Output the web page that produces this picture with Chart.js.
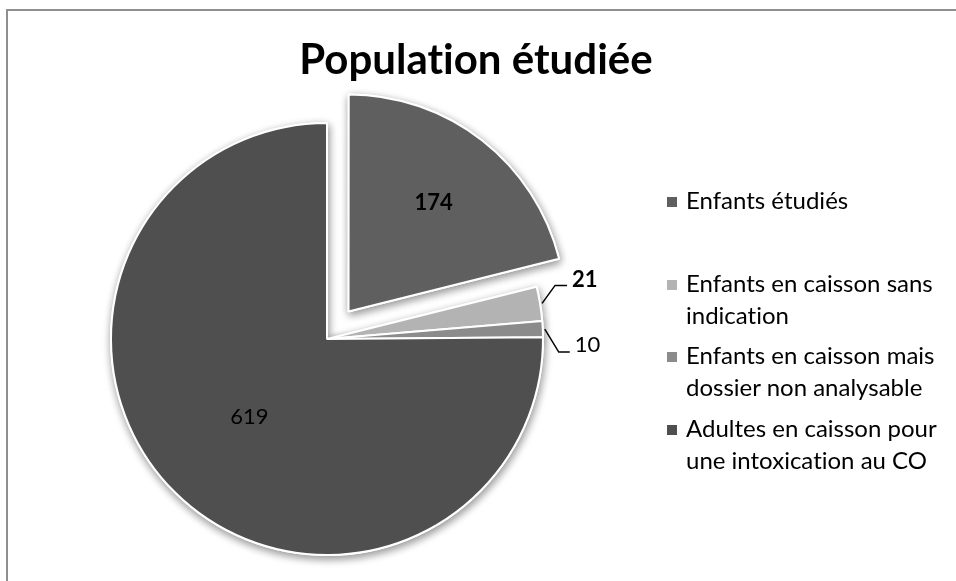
<!DOCTYPE html>
<html lang="fr">
<head>
<meta charset="utf-8">
<title>Population étudiée</title>
<script src="https://cdn.jsdelivr.net/npm/chart.js@4.4.1/dist/chart.umd.min.js"></script>
<style>
  html, body { margin: 0; padding: 0; background: #fff; }
  body { width: 956px; height: 581px; position: relative; overflow: hidden; font-family: Lato, "Open Sans", sans-serif; font-variant-ligatures: none; font-feature-settings: "liga" 0, "clig" 0, "dlig" 0; }
  #frame { position: absolute; left: 6px; top: 9px; width: 1100px; height: 800px; border: 2px solid #8f8f8f; box-sizing: border-box; }
  #chart { position: absolute; left: 0; top: 0; }
  #title { position: absolute; left: 0; width: 952px; top: 33px; text-align: center; font-weight: 700; font-size: 42px; line-height: 50px; color: #000; white-space: nowrap; }
  .legend-item { position: absolute; left: 667px; font-size: 24px; line-height: 32px; color: #000; white-space: nowrap; }
  .legend-item .swatch { position: absolute; left: 0; top: 13px; width: 10px; height: 10px; }
  .legend-item .text { margin-left: 19px; }
</style>
</head>
<body>
<div id="frame"></div>
<canvas id="chart" width="956" height="581"></canvas>
<div id="title">Population étudiée</div>
<div id="legend"></div>
<script>
// Categories (each label split into its legend lines) and counts
const categories = [
  ['Enfants étudiés'],
  ['Enfants en caisson sans', 'indication'],
  ['Enfants en caisson mais', 'dossier non analysable'],
  ['Adultes en caisson pour', 'une intoxication au CO']
];
const counts = [174, 21, 10, 619];
const sliceColors = ['#5f5f5f', '#b3b3b3', '#8b8b8b', '#4f4f4f'];
const sliceOffsets = [140, 0, 0, 0];

// Vertical placement of each legend entry
const legendTops = [184, 267, 339, 412];

// How each value label is placed: inside at a fraction of the radius,
// or outside at the end of a bent leader line
const labelStyle = [
  { inside: true, ratio: 0.64, bold: true, size: 22 },
  { inside: false, bend: [13, -18], run: 12, textDy: -6, bold: true, size: 22 },
  { inside: false, bend: [14, 23], run: 11, textDy: -7, bold: false, size: 22 },
  { inside: true, ratio: 0.51, bold: false, size: 22 }
];

const shadowPlugin = {
  id: 'sliceShadow',
  beforeDatasetsDraw(chart) {
    const ctx = chart.ctx;
    const meta = chart.getDatasetMeta(0);
    ctx.save();
    ctx.shadowColor = 'rgba(0,0,0,0.42)';
    ctx.shadowBlur = 9;
    ctx.shadowOffsetX = 1;
    ctx.shadowOffsetY = 3;
    meta.data.forEach(arc => arc.draw(ctx));
    ctx.restore();
  }
};

const valueLabelPlugin = {
  id: 'valueLabels',
  afterDatasetsDraw(chart) {
    const ctx = chart.ctx;
    const meta = chart.getDatasetMeta(0);
    const values = chart.data.datasets[0].data;
    meta.data.forEach((arc, i) => {
      const p = arc.getProps(['x', 'y', 'startAngle', 'endAngle', 'outerRadius'], true);
      const mid = (p.startAngle + p.endAngle) / 2;
      const shift = (arc.options.offset || 0) / 4;
      const cx = p.x + Math.cos(mid) * shift;
      const cy = p.y + Math.sin(mid) * shift;
      const spec = labelStyle[i];
      ctx.save();
      ctx.fillStyle = '#000';
      ctx.font = (spec.bold ? '700 ' : '400 ') + spec.size + 'px Lato, "Open Sans", sans-serif';
      ctx.textBaseline = 'middle';
      if (spec.inside) {
        const r = p.outerRadius * spec.ratio;
        ctx.textAlign = 'center';
        ctx.fillText(String(values[i]), cx + Math.cos(mid) * r, cy + Math.sin(mid) * r);
      } else {
        const ex = cx + Math.cos(mid) * (p.outerRadius + 2);
        const ey = cy + Math.sin(mid) * (p.outerRadius + 2);
        const bx = ex + spec.bend[0];
        const by = ey + spec.bend[1];
        const tx = bx + spec.run;
        ctx.strokeStyle = '#000';
        ctx.lineWidth = 1.5;
        ctx.beginPath();
        ctx.moveTo(ex, ey);
        ctx.lineTo(bx, by);
        ctx.lineTo(tx, by);
        ctx.stroke();
        ctx.textAlign = 'left';
        ctx.fillText(String(values[i]), tx + 5, by + spec.textDy);
      }
      ctx.restore();
    });
  }
};

const chart = new Chart(document.getElementById('chart'), {
  type: 'pie',
  data: {
    labels: categories,
    datasets: [{
      data: counts,
      backgroundColor: sliceColors,
      borderColor: '#ffffff',
      borderWidth: 2,
      offset: sliceOffsets,
      hoverOffset: 0,
      clip: false
    }]
  },
  options: {
    responsive: false,
    animation: false,
    events: [],
    radius: 216,
    layout: { padding: { left: 0, right: 302, top: 99, bottom: 2 } },
    plugins: {
      legend: { display: false },
      title: { display: false },
      tooltip: { enabled: false }
    }
  },
  plugins: [shadowPlugin, valueLabelPlugin]
});

// Legend built from the chart's own labels and colours
const legend = document.getElementById('legend');
chart.data.labels.forEach((lines, i) => {
  const item = document.createElement('div');
  item.className = 'legend-item';
  item.style.top = legendTops[i] + 'px';
  const sw = document.createElement('span');
  sw.className = 'swatch';
  sw.style.background = chart.data.datasets[0].backgroundColor[i];
  const tx = document.createElement('div');
  tx.className = 'text';
  lines.forEach((line, k) => {
    if (k) tx.appendChild(document.createElement('br'));
    tx.appendChild(document.createTextNode(line));
  });
  item.appendChild(sw);
  item.appendChild(tx);
  legend.appendChild(item);
});
</script>
</body>
</html>
